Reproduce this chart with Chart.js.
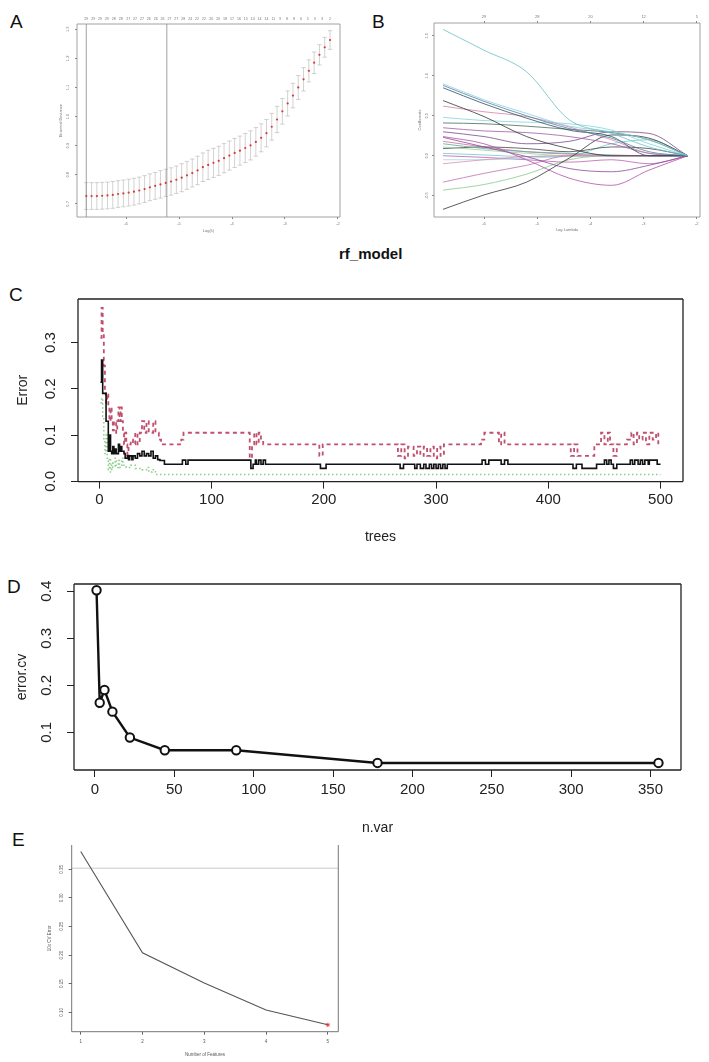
<!DOCTYPE html>
<html><head><meta charset="utf-8">
<script src="https://cdn.jsdelivr.net/npm/chart.js@4.4.1/dist/chart.umd.min.js"></script>
<style>
html,body{margin:0;padding:0;background:#fff;width:709px;height:1062px;overflow:hidden;position:relative;}
canvas{position:absolute;}
.lbl{position:absolute;font-family:"Liberation Sans",Arial,sans-serif;color:#111;line-height:1;white-space:nowrap;}
</style></head><body>
<div class="lbl" style="left:10px;top:12px;font-size:19px;">A</div>
<div class="lbl" style="left:372px;top:12px;font-size:19px;">B</div>
<div class="lbl" style="left:339px;top:246px;font-size:15px;font-weight:bold;">rf_model</div>
<div class="lbl" style="left:9px;top:285px;font-size:19px;">C</div>
<div class="lbl" style="left:7px;top:577px;font-size:19px;">D</div>
<div class="lbl" style="left:12px;top:830px;font-size:19px;">E</div>
<canvas id="cA" width="310" height="236" style="left:40px;top:0px;width:310px;height:236px;"></canvas>
<canvas id="cB" width="349" height="236" style="left:360px;top:0px;width:349px;height:236px;"></canvas>
<canvas id="cC" width="709" height="270" style="left:0px;top:280px;width:709px;height:270px;"></canvas>
<canvas id="cD" width="709" height="275" style="left:0px;top:565px;width:709px;height:275px;"></canvas>
<canvas id="cE" width="360" height="232" style="left:0px;top:830px;width:360px;height:232px;"></canvas>
<script>
// ---------------- Panel A: cross-validated binomial deviance ----------------
const aLogLambda = [-6.75,-6.65,-6.55,-6.45,-6.35,-6.25,-6.15,-6.05,-5.95,-5.85,-5.75,-5.65,-5.55,-5.45,-5.35,-5.25,-5.15,-5.05,-4.95,-4.85,-4.75,-4.65,-4.55,-4.45,-4.35,-4.25,-4.15,-4.05,-3.95,-3.85,-3.75,-3.65,-3.55,-3.45,-3.35,-3.25,-3.15,-3.05,-2.95,-2.85,-2.75,-2.65,-2.55,-2.45,-2.35,-2.25,-2.15];
const aDeviance = [0.727,0.727,0.727,0.728,0.729,0.731,0.734,0.736,0.739,0.742,0.746,0.751,0.757,0.762,0.767,0.772,0.777,0.783,0.790,0.798,0.806,0.815,0.826,0.834,0.841,0.848,0.857,0.866,0.875,0.883,0.892,0.901,0.913,0.927,0.943,0.965,0.990,1.018,1.045,1.072,1.100,1.128,1.157,1.185,1.212,1.238,1.263];
const aSD = [0.046,0.046,0.046,0.046,0.046,0.046,0.046,0.046,0.046,0.046,0.046,0.046,0.046,0.046,0.047,0.047,0.047,0.047,0.048,0.048,0.048,0.049,0.049,0.050,0.050,0.050,0.050,0.050,0.050,0.050,0.050,0.050,0.049,0.048,0.047,0.046,0.045,0.044,0.043,0.042,0.041,0.040,0.038,0.037,0.035,0.034,0.032];
const aLambdaLines = [-6.75, -5.23];
const aTopLambda = [-6.75,-6.62,-6.49,-6.36,-6.23,-6.10,-5.96,-5.83,-5.70,-5.57,-5.44,-5.31,-5.18,-5.05,-4.92,-4.79,-4.66,-4.53,-4.39,-4.26,-4.13,-4.00,-3.87,-3.74,-3.61,-3.48,-3.35,-3.22,-3.09,-2.96,-2.83,-2.70,-2.57,-2.44,-2.30,-2.15];
const aTopLabels = ['29','29','29','29','28','28','27','27','27','26','26','26','27','27','28','24','22','22','20','20','18','17','16','15','14','14','14','11','9','8','8','6','5','3','3','2'];
const aXTicks = [-6,-5,-4,-3,-2];
const aYTicks = [0.7,0.8,0.9,1.0,1.1,1.2,1.3];

// ---------------- Panel B: coefficient paths ----------------
const bLogLambda = [-6.77,-6.0,-5.2,-4.4,-3.6,-2.9,-2.17];
const bCoef01 = [1.58,1.32,1.05,0.45,0.28,0.11,0];
const bCoef02 = [0.90,0.70,0.53,0.37,0.30,0.20,0];
const bCoef03 = [0.88,0.68,0.50,0.34,0.22,0.05,0];
const bCoef04 = [0.85,0.65,0.47,0.32,0.24,0,0];
const bCoef05 = [0.69,0.49,0.24,0.09,0,0,0];
const bCoef06 = [0.62,0.55,0.49,0.36,0.20,0.03,0];
const bCoef07 = [0.48,0.44,0.42,0.40,0.32,0.15,0];
const bCoef08 = [0.41,0.40,0.37,0.33,0.29,0.20,0];
const bCoef09 = [0.35,0.31,0.29,0.24,0.15,0.03,0];
const bCoef10 = [-0.67,-0.49,-0.33,-0.03,0.26,0.22,0];
const bCoef11 = [0.24,0.15,-0.05,-0.28,-0.37,-0.18,0];
const bCoef12 = [0.23,0.11,-0.01,-0.16,-0.20,-0.12,0];
const bCoef13 = [-0.10,-0.05,-0.01,0,0,0,0];
const bCoef14 = [-0.33,-0.22,-0.12,0,0,0,0];
const bCoef15 = [-0.43,-0.36,-0.23,-0.05,0,0,0];
const bCoef16 = [0.30,0.24,0.15,0.18,0.30,0.28,0];
const bCoef17 = [0.15,0.09,0.05,0.03,0.01,0,0];
const bCoef18 = [-0.05,-0.05,-0.03,-0.01,0,0,0];
const bCoef19 = [0.11,0.07,0.03,0,0,0,0];
const bCoef20 = [0.09,0.11,0.09,0.05,0.11,0.09,0];
const bCoef21 = [0.18,0.11,0.05,0.02,0,0,0];
const bCoef22 = [0.03,0.01,-0.01,0,0.15,0.20,0];
const bCoef23 = [0.0,-0.02,-0.05,-0.08,-0.05,-0.10,0];
const bTopLambda = [-6,-5,-4,-3,-2];
const bTopLabels = ['29','28','20','12','5'];
const bXTicks = [-6,-5,-4,-3,-2];
const bYTicks = [-0.5,0.0,0.5,1.0,1.5];

// ---------------- Panel C: random forest error vs trees (breakpoints) ----------------
const cTreesOOB = [1,2,3,5,6,7,8,9,10,11,12,13,14,15,17,18,19,20,22,23,25,26,27,29,30,32,34,36,38,40,42,44,46,48,50,52,54,58,74,77,79,135,137,139,140,142,144,146,148,197,202,268,271,281,283,286,289,291,294,296,298,300,302,304,306,308,310,341,344,347,358,361,364,422,425,430,443,450,452,454,456,458,461,473,475,477,480,482,484,486,489,490,497,500];
const cOOB = [0.214,0.262,0.19,0.19,0.13,0.13,0.065,0.10,0.065,0.06,0.075,0.06,0.07,0.06,0.08,0.065,0.075,0.065,0.06,0.05,0.055,0.047,0.055,0.047,0.055,0.05,0.06,0.055,0.065,0.055,0.06,0.055,0.065,0.05,0.055,0.047,0.045,0.037,0.046,0.037,0.046,0.028,0.037,0.046,0.037,0.046,0.037,0.046,0.037,0.028,0.037,0.028,0.037,0.028,0.037,0.028,0.037,0.028,0.037,0.028,0.037,0.028,0.037,0.028,0.037,0.028,0.037,0.046,0.037,0.046,0.037,0.046,0.037,0.028,0.037,0.028,0.037,0.046,0.037,0.046,0.037,0.028,0.037,0.046,0.037,0.046,0.037,0.046,0.037,0.046,0.037,0.046,0.037,0.037];
const cTreesClass1 = [1,2,3,4,5,6,7,8,9,10,11,12,13,15,16,17,18,19,20,21,22,23,24,25,26,28,30,32,34,36,38,40,42,44,48,50,53,55,73,75,134,136,138,140,142,144,146,196,199,266,269,272,275,280,283,286,289,292,295,298,301,304,307,340,343,356,358,361,420,423,426,441,447,450,453,455,458,461,470,474,476,479,481,484,487,490,493,496,498,500];
const cClass1 = [0.31,0.375,0.32,0.25,0.19,0.17,0.19,0.16,0.13,0.16,0.13,0.11,0.13,0.105,0.13,0.16,0.13,0.16,0.13,0.105,0.08,0.105,0.08,0.05,0.08,0.09,0.08,0.105,0.08,0.105,0.13,0.105,0.13,0.105,0.13,0.105,0.09,0.08,0.09,0.105,0.05,0.08,0.105,0.08,0.105,0.09,0.08,0.055,0.08,0.055,0.08,0.05,0.075,0.055,0.075,0.055,0.075,0.055,0.075,0.05,0.075,0.055,0.08,0.09,0.105,0.08,0.105,0.08,0.055,0.08,0.055,0.08,0.105,0.08,0.105,0.08,0.055,0.08,0.09,0.105,0.08,0.105,0.09,0.105,0.08,0.105,0.09,0.105,0.08,0.08];
const cTreesClass2 = [1,2,3,4,5,6,7,8,9,10,11,12,14,15,17,18,20,21,24,28,32,38,42,44,47,50,500];
const cClass2 = [0.17,0.18,0.14,0.09,0.06,0.10,0.05,0.025,0.05,0.02,0.04,0.03,0.05,0.03,0.045,0.03,0.05,0.035,0.03,0.035,0.028,0.025,0.03,0.02,0.025,0.015,0.015];
const cXTicks = [0,100,200,300,400,500];
const cYTicks = [0.0,0.1,0.2,0.3];

// ---------------- Panel D: rfcv error vs number of variables ----------------
const dNVar = [1,3,6,11,22,44,89,178,355];
const dErrorCV = [0.402,0.163,0.190,0.144,0.089,0.062,0.062,0.035,0.035];
const dXTicks = [0,50,100,150,200,250,300,350];
const dYTicks = [0.1,0.2,0.3,0.4];

// ---------------- Panel E: RFE 10x CV error ----------------
const eNumFeatures = [1,2,3,4,5];
const eCVError = [0.381,0.204,0.151,0.104,0.078];
const eRefLine = [0.352];
const eXTicks = [1,2,3,4,5];
const eYTicks = [0.10,0.15,0.20,0.25,0.30,0.35];

// ---------------- helpers ----------------
const FONT = '"Liberation Sans", Arial, sans-serif';
const fixH = h => s => { s.height = h; };
const fixW = w => s => { s.width = w; };
const setTicks = arr => s => { s.ticks = arr.map(v => ({value: v})); };

const framePlugin = {
  id: 'frame',
  afterDatasetsDraw(chart, args, o) {
    if (!o || !o.color) return;
    const {ctx, chartArea: a} = chart;
    ctx.save();
    ctx.strokeStyle = o.color; ctx.lineWidth = o.width || 1;
    ctx.beginPath();
    const sides = o.sides || 'tlbr';
    if (sides.includes('t')) { ctx.moveTo(a.left, a.top); ctx.lineTo(a.right, a.top); }
    if (sides.includes('b')) { ctx.moveTo(a.left, a.bottom); ctx.lineTo(a.right, a.bottom); }
    if (sides.includes('l')) { ctx.moveTo(a.left, a.top); ctx.lineTo(a.left, a.bottom); }
    if (sides.includes('r')) { ctx.moveTo(a.right, a.top); ctx.lineTo(a.right, a.bottom); }
    ctx.stroke();
    ctx.restore();
  }
};
const errPlugin = {
  id: 'errbars',
  beforeDatasetsDraw(chart, args, o) {
    if (!o || !o.x) return;
    const {ctx} = chart; const xs = chart.scales.x, ys = chart.scales.y;
    ctx.save(); ctx.strokeStyle = o.color; ctx.lineWidth = o.width;
    ctx.beginPath();
    o.x.forEach((xv, i) => {
      const px = xs.getPixelForValue(xv);
      const lo = ys.getPixelForValue(o.y[i] - o.sd[i]);
      const hi = ys.getPixelForValue(o.y[i] + o.sd[i]);
      ctx.moveTo(px, lo); ctx.lineTo(px, hi);
      ctx.moveTo(px - o.cap, lo); ctx.lineTo(px + o.cap, lo);
      ctx.moveTo(px - o.cap, hi); ctx.lineTo(px + o.cap, hi);
    });
    ctx.stroke(); ctx.restore();
  }
};
const refPlugin = {
  id: 'reflines',
  beforeDatasetsDraw(chart, args, o) {
    if (!o || !o.color) return;
    const {ctx, chartArea: a} = chart;
    ctx.save(); ctx.strokeStyle = o.color; ctx.lineWidth = o.width || 0.8;
    ctx.beginPath();
    (o.v || []).forEach(v => { const px = chart.scales.x.getPixelForValue(v); ctx.moveTo(px, a.top); ctx.lineTo(px, a.bottom); });
    (o.h || []).forEach(v => { const py = chart.scales.y.getPixelForValue(v); ctx.moveTo(a.left, py); ctx.lineTo(a.right, py); });
    ctx.stroke(); ctx.restore();
  }
};
Chart.register(framePlugin, errPlugin, refPlugin);

function pts(xs, ys) { return xs.map((x, i) => ({x: x, y: ys[i]})); }
function baseOpts(pad) {
  return {
    responsive: false, animation: false, events: [],
    layout: {padding: pad},
    plugins: {legend: {display: false}, tooltip: {enabled: false}}
  };
}
function axis(o) {
  const a = {
    type: 'linear', position: o.position, min: o.min, max: o.max,
    afterBuildTicks: setTicks(o.ticks),
    afterFit: o.horiz ? fixH(o.size) : fixW(o.size),
    border: {display: false},
    grid: {display: o.tickLen > 0, drawOnChartArea: false, tickLength: o.tickLen, color: o.color, lineWidth: o.lw || 1},
    ticks: {font: {family: FONT, size: o.fs}, color: o.tcolor, padding: o.pad, autoSkip: false,
            callback: o.cb},
    title: {display: !!o.title, text: o.title || '', font: {family: FONT, size: o.tfs || o.fs}, color: o.tcolor, padding: 0}
  };
  if (!o.horiz) { a.ticks.minRotation = 90; a.ticks.maxRotation = 90; a.ticks.crossAlign = 'center'; }
  else { a.ticks.maxRotation = 0; a.ticks.minRotation = 0; }
  if (o.axisId) a.axis = o.axisId;
  return a;
}

// ---------------- Chart A ----------------
(function () {
  const opts = baseOpts({left: 18, right: 10, top: 10, bottom: 3});
  opts.plugins.frame = {color: '#8a8a8a', width: 0.8};
  opts.plugins.errbars = {x: aLogLambda, y: aDeviance, sd: aSD, color: '#b4b4b4', width: 0.6, cap: 2.2};
  opts.plugins.reflines = {v: aLambdaLines, color: '#8a8a8a', width: 0.8};
  opts.scales = {
    x: axis({position: 'bottom', horiz: true, min: -6.925, max: -1.962, ticks: aXTicks, size: 16, tickLen: 2, color: '#888', fs: 4, tcolor: '#777', pad: 2.6, cb: v => String(v), title: 'Log(λ)'}),
    xTop: axis({position: 'top', horiz: true, axisId: 'x', min: -6.925, max: -1.962, ticks: aTopLambda, size: 14, tickLen: 0, color: '#888', fs: 3.6, tcolor: '#777', pad: 3, cb: (v, i) => aTopLabels[i]}),
    y: axis({position: 'left', horiz: false, min: 0.655, max: 1.318, ticks: aYTicks, size: 19, tickLen: 2, color: '#888', fs: 4, tcolor: '#777', pad: 4.5, cb: v => v.toFixed(1), title: 'Binomial Deviance'})
  };
  new Chart(document.getElementById('cA'), {
    type: 'scatter',
    data: {datasets: [{data: pts(aLogLambda, aDeviance), showLine: false, pointRadius: 1.1, pointBorderWidth: 0, pointBackgroundColor: '#d83a3a'}]},
    options: opts
  });
})();

// ---------------- Chart B ----------------
(function () {
  const series = [bCoef01,bCoef02,bCoef03,bCoef04,bCoef05,bCoef06,bCoef07,bCoef08,bCoef09,bCoef10,bCoef11,bCoef12,bCoef13,bCoef14,bCoef15,bCoef16,bCoef17,bCoef18,bCoef19,bCoef20,bCoef21,bCoef22,bCoef23];
  const colors = ['#6cbfc4','#86d0dc','#4f7fa8','#2f4f5f','#333333','#d083a6','#7fd6dd','#4a6a5a','#a05aa8','#333333','#b050a8','#8a4a9a','#d890b0','#c070b0','#8cc88c','#7a4a8a','#5aa8a8','#9adce0','#9ccf8c','#444444','#d07090','#70c8d0','#c060b0'];
  const opts = baseOpts({left: 57.6, right: 9, top: 9, bottom: 3.6});
  opts.plugins.frame = {color: '#8a8a8a', width: 0.8};
  opts.scales = {
    x: axis({position: 'bottom', horiz: true, min: -6.94, max: -1.94, ticks: bXTicks, size: 15.4, tickLen: 2, color: '#888', fs: 4, tcolor: '#777', pad: 2.6, cb: v => String(v), title: 'Log Lambda'}),
    xTop: axis({position: 'top', horiz: true, axisId: 'x', min: -6.94, max: -1.94, ticks: bTopLambda, size: 14, tickLen: 2, color: '#888', fs: 4, tcolor: '#777', pad: 2, cb: (v, i) => bTopLabels[i]}),
    y: axis({position: 'left', horiz: false, min: -0.766, max: 1.66, ticks: bYTicks, size: 16.4, tickLen: 2, color: '#888', fs: 4, tcolor: '#777', pad: 1.5, cb: v => v.toFixed(1), title: 'Coefficients'})
  };
  new Chart(document.getElementById('cB'), {
    type: 'scatter',
    data: {datasets: series.map((s, i) => ({data: pts(bLogLambda, s), showLine: true, pointRadius: 0, borderColor: colors[i], borderWidth: 0.8, cubicInterpolationMode: 'monotone'}))},
    options: opts
  });
})();

// ---------------- Chart C ----------------
(function () {
  const opts = baseOpts({left: 15, right: 26, top: 11, bottom: 4});
  opts.plugins.frame = {color: '#222', width: 1.3};
  opts.scales = {
    x: axis({position: 'bottom', horiz: true, min: -19, max: 520, ticks: cXTicks, size: 64.4, tickLen: 7, color: '#222', fs: 15, tfs: 14, tcolor: '#222', pad: 2, cb: v => String(v), title: 'trees'}),
    y: axis({position: 'left', horiz: false, min: -0.0005, max: 0.394, ticks: cYTicks, size: 63, tickLen: 7, color: '#222', fs: 15, tfs: 14, tcolor: '#222', pad: 10, cb: v => v.toFixed(1), title: 'Error'})
  };
  new Chart(document.getElementById('cC'), {
    type: 'scatter',
    data: {datasets: [
      {data: pts(cTreesOOB, cOOB), showLine: true, stepped: 'before', pointRadius: 0, borderColor: '#111', borderWidth: 1.6, order: 0},
      {data: pts(cTreesClass1, cClass1), showLine: true, stepped: 'before', pointRadius: 0, borderColor: '#c0506e', borderWidth: 1.8, borderDash: [4, 3.5], order: 1},
      {data: pts(cTreesClass2, cClass2), showLine: true, stepped: 'before', pointRadius: 0, borderColor: '#8ccc8c', borderWidth: 1.5, borderDash: [1.5, 2.5], order: 2}
    ]},
    options: opts
  });
})();

// ---------------- Chart D ----------------
(function () {
  const opts = baseOpts({left: 13.6, right: 28, top: 16, bottom: 3.6});
  opts.plugins.frame = {color: '#222', width: 1.3};
  opts.scales = {
    x: axis({position: 'bottom', horiz: true, min: -13.2, max: 369.2, ticks: dXTicks, size: 66.4, tickLen: 7, color: '#222', fs: 15, tfs: 14, tcolor: '#222', pad: 4, cb: v => String(v), title: 'n.var'}),
    y: axis({position: 'left', horiz: false, min: 0.020, max: 0.4153, ticks: dYTicks, size: 60.4, tickLen: 7, color: '#222', fs: 15, tfs: 14, tcolor: '#222', pad: 10, cb: v => v.toFixed(1), title: 'error.cv'})
  };
  new Chart(document.getElementById('cD'), {
    type: 'scatter',
    data: {datasets: [{data: pts(dNVar, dErrorCV), showLine: true, borderColor: '#111', borderWidth: 2.4,
      pointRadius: 4.2, pointBorderWidth: 2, pointBorderColor: '#111', pointBackgroundColor: '#fff'}]},
    options: opts
  });
})();

// ---------------- Chart E ----------------
(function () {
  const opts = baseOpts({left: 47.3, right: 21.7, top: 15, bottom: 4.3});
  opts.plugins.frame = {color: '#666', width: 0.9, sides: 'lbr'};
  opts.plugins.reflines = {h: eRefLine, color: '#bbbbbb', width: 0.8};
  opts.scales = {
    x: axis({position: 'bottom', horiz: true, min: 0.854, max: 5.17, ticks: eXTicks, size: 26, tickLen: 3, color: '#666', fs: 4.5, tcolor: '#555', pad: 4, cb: v => String(v), title: 'Number of Features'}),
    y: axis({position: 'left', horiz: false, min: 0.066, max: 0.3925, ticks: eYTicks, size: 24.4, tickLen: 3, color: '#666', fs: 4.5, tcolor: '#555', pad: 3, cb: v => v.toFixed(2), title: '10x CV Error'})
  };
  new Chart(document.getElementById('cE'), {
    type: 'scatter',
    data: {datasets: [{data: pts(eNumFeatures, eCVError), showLine: true, borderColor: '#555', borderWidth: 1.1,
      pointRadius: eCVError.map((v, i) => i === eCVError.length - 1 ? 2.2 : 0), pointStyle: 'star',
      pointBorderColor: '#e03030', pointBorderWidth: 0.8}]},
    options: opts
  });
})();
</script>
</body></html>
